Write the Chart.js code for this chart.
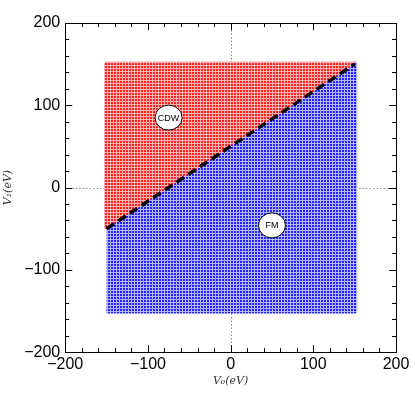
<!DOCTYPE html>
<html>
<head>
<meta charset="utf-8">
<script src="https://cdn.jsdelivr.net/npm/chart.js@4.4.1/dist/chart.umd.min.js"></script>
<style>
  html,body{margin:0;padding:0;background:#fff;}
  #wrap{width:415px;height:396px;position:relative;}
</style>
</head>
<body>
<div id="wrap"><canvas id="c"></canvas></div>
<script>
// axis range + ticks
const axisMin = -200, axisMax = 200;
const majorStep = 100, minorStep = 20;

// phase regions (corner points of each region, V0, V1 in eV)
const cdwX = [-150, -150, 150];
const cdwY = [-50, 150, 150];
const fmX  = [-150, 150, 150, -150];
const fmY  = [-50, 150, -150, -150];

// phase boundary
const boundaryX = [-150, 150];
const boundaryY = [-50, 150];

// region labels
const labelText = ['CDW', 'FM'];
const labelX    = [-75, 50];
const labelY    = [85, -46];

const toPts = (xs, ys) => xs.map((x, i) => ({x, y: ys[i]}));

// checker texture, like the dotted fill of the original
function makePattern(dark, light){
  const p = document.createElement('canvas'); p.width = 3; p.height = 3;
  const g = p.getContext('2d');
  g.fillStyle = light; g.fillRect(0, 0, 3, 3);
  g.fillStyle = dark;  g.fillRect(0, 0, 2, 2);
  return document.getElementById('c').getContext('2d').createPattern(p, 'repeat');
}
const redPat  = makePattern('#ff2020', '#ffb4b4');
const bluePat = makePattern('#2424ff', '#b4b4ff');

const fmt = v => String(v).replace('-', '\u2212');

// dotted zero lines under the data
const zeroLines = {
  id: 'zeroLines',
  beforeDatasetsDraw(chart){
    const {ctx, chartArea: a, scales: {x, y}} = chart;
    ctx.save();
    ctx.strokeStyle = '#888'; ctx.lineWidth = 1; ctx.setLineDash([1.5, 2]);
    const x0 = Math.round(x.getPixelForValue(0)) + 0.5;
    const y0 = Math.round(y.getPixelForValue(0)) + 0.5;
    ctx.beginPath();
    ctx.moveTo(x0, a.top); ctx.lineTo(x0, a.bottom);
    ctx.moveTo(a.left, y0); ctx.lineTo(a.right, y0);
    ctx.stroke();
    ctx.restore();
  }
};

// frame, inward ticks on all four sides, region labels
const frame = {
  id: 'frame',
  afterDraw(chart){
    const {ctx, chartArea: a, scales: {x, y}} = chart;
    ctx.save();
    ctx.strokeStyle = '#000'; ctx.lineWidth = 1;
    ctx.strokeRect(Math.round(a.left) + 0.5, Math.round(a.top) + 0.5,
                   Math.round(a.right - a.left), Math.round(a.bottom - a.top));
    ctx.beginPath();
    for (let v = axisMin + minorStep; v < axisMax; v += minorStep){
      const len = v % majorStep === 0 ? 7 : 4;
      const px = Math.round(x.getPixelForValue(v)) + 0.5;
      const py = Math.round(y.getPixelForValue(v)) + 0.5;
      ctx.moveTo(px, a.bottom); ctx.lineTo(px, a.bottom - len);
      ctx.moveTo(px, a.top);    ctx.lineTo(px, a.top + len);
      ctx.moveTo(a.left, py);   ctx.lineTo(a.left + len, py);
      ctx.moveTo(a.right, py);  ctx.lineTo(a.right - len, py);
    }
    ctx.stroke();

    labelText.forEach((t, i) => {
      const cx = x.getPixelForValue(labelX[i]), cy = y.getPixelForValue(labelY[i]);
      ctx.beginPath();
      ctx.ellipse(cx, cy, 13.5, 12.5, 0, 0, Math.PI * 2);
      ctx.fillStyle = '#fff'; ctx.fill();
      ctx.strokeStyle = '#000'; ctx.lineWidth = 1; ctx.stroke();
      ctx.fillStyle = '#000';
      ctx.font = '9px "Liberation Sans", Arial, sans-serif';
      ctx.textAlign = 'center'; ctx.textBaseline = 'middle';
      ctx.fillText(t, cx, cy + 0.5);
    });
    ctx.restore();
  }
};

const tickFont = {family: '"Liberation Sans", Arial, sans-serif', size: 16};
const titleFont = {family: '"DejaVu Serif", serif', size: 11, style: 'italic'};

new Chart(document.getElementById('c'), {
  type: 'scatter',
  data: {
    datasets: [
      {data: toPts(boundaryX, boundaryY), showLine: true, fill: false, borderColor: '#000',
       borderWidth: 3.5, borderDash: [9, 5], pointRadius: 0, order: 0},
      {data: toPts(cdwX, cdwY), showLine: true, fill: 'shape', backgroundColor: redPat,
       borderColor: redPat, borderWidth: 5, borderJoinStyle: 'round', pointRadius: 0, tension: 0, order: 1},
      {data: toPts(fmX, fmY), showLine: true, fill: 'shape', backgroundColor: bluePat,
       borderColor: bluePat, borderWidth: 5, borderJoinStyle: 'round', pointRadius: 0, tension: 0, order: 2}
    ]
  },
  options: {
    responsive: true, maintainAspectRatio: false, animation: false,
    layout: {padding: {top: 23, right: 19, left: 2, bottom: 8.5}},
    plugins: {legend: {display: false}, tooltip: {enabled: false}},
    scales: {
      x: {
        type: 'linear', min: axisMin, max: axisMax,
        grid: {display: false, drawTicks: false}, border: {display: false},
        ticks: {stepSize: minorStep, autoSkip: false, maxRotation: 0, padding: 3,
                color: '#000', font: tickFont,
                callback: v => v % majorStep === 0 ? fmt(v) : ''},
        title: {display: true, text: 'V\u2080(eV)', color: '#333', font: titleFont, padding: {top: -3, bottom: 0}}
      },
      y: {
        type: 'linear', min: axisMin, max: axisMax,
        grid: {display: false, drawTicks: false}, border: {display: false},
        ticks: {stepSize: minorStep, autoSkip: false, padding: 5,
                color: '#000', font: tickFont,
                callback: v => v % majorStep === 0 ? fmt(v) : ''},
        title: {display: true, text: 'V\u2081(eV)', color: '#333', font: titleFont, padding: {top: 0, bottom: 4}}
      }
    }
  },
  plugins: [zeroLines, frame]
});
</script>
</body>
</html>
